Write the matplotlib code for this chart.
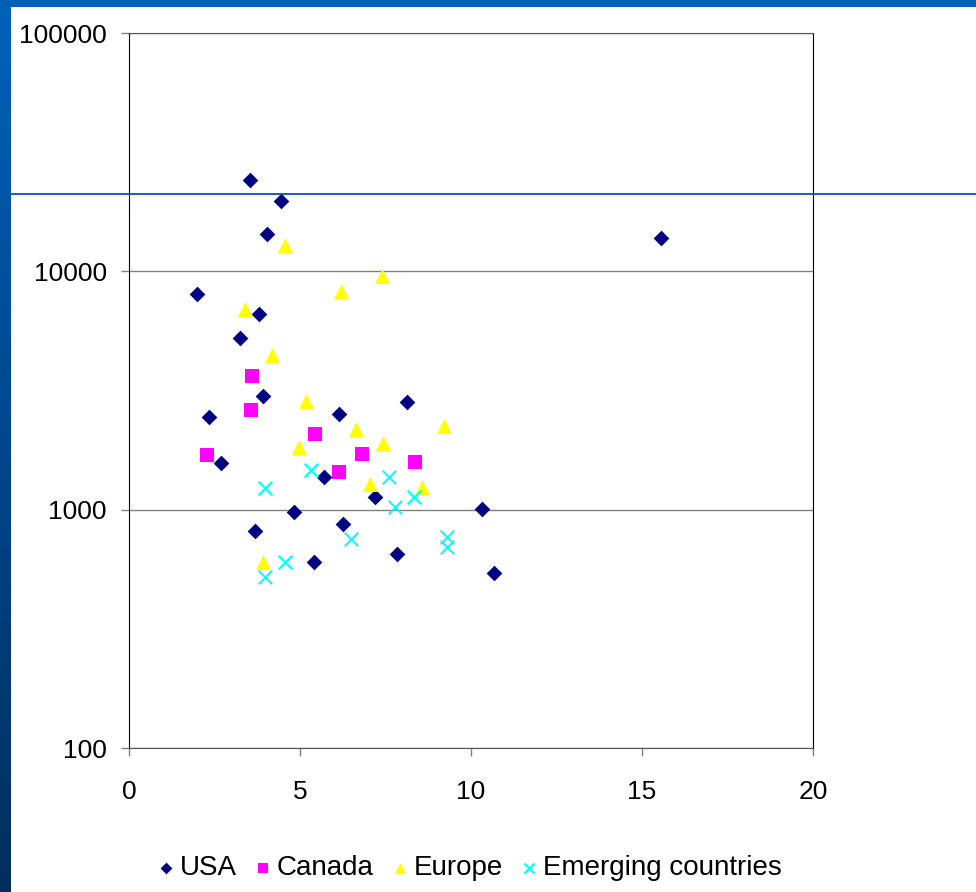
import numpy as np
import matplotlib
matplotlib.use("Agg")
import matplotlib.pyplot as plt
from matplotlib.lines import Line2D
from matplotlib.ticker import FixedLocator, FixedFormatter, NullLocator
from matplotlib import font_manager

plt.rcParams['font.family'] = ['Liberation Sans', 'DejaVu Sans']

# values
usa_x = [3.53, 4.43, 4.03, 2.00, 3.79, 3.24, 3.93, 8.14, 6.15, 2.35, 2.69, 5.71,
         7.19, 10.32, 4.82, 6.25, 3.68, 7.83, 5.41, 10.66, 15.55]
usa_y = [24100, 19780, 14300, 8060, 6620, 5250, 3010, 2820, 2520, 2440, 1570, 1375,
         1127, 1010, 975, 871, 816, 650, 605, 542, 13840]

canada_x = [3.61, 3.56, 5.44, 2.27, 6.82, 8.36, 6.13]
canada_y = [3640, 2630, 2080, 1690, 1717, 1580, 1435]

europe_x = [4.57, 7.40, 6.21, 3.39, 4.18, 5.17, 9.22, 6.65, 4.97, 7.43, 7.05, 8.58, 3.93]
europe_y = [12900, 9590, 8290, 6930, 4460, 2870, 2245, 2175, 1840, 1910, 1282, 1240, 605]

emerging_x = [5.31, 7.59, 3.98, 8.34, 7.79, 6.50, 9.31, 9.31, 4.56, 3.98]
emerging_y = [1467, 1375, 1230, 1130, 1023, 751, 766, 699, 605, 523]

x_ticks = [0, 5, 10, 15, 20]
y_ticks = [100, 1000, 10000, 100000]
y_labels = ["100", "1000", "10000", "100000"]

W, H = 976, 892
fig = plt.figure(figsize=(W / 100, H / 100), dpi=100)
fig.patch.set_facecolor("white")

# slide background bits: blue strip on the left, band on top, thin line
strip = fig.add_axes([0, 0, 11 / W, 1])
grad = np.linspace(0, 1, 256).reshape(-1, 1)
strip.imshow(grad, aspect="auto", cmap=matplotlib.colors.LinearSegmentedColormap.from_list(
    "slide", ["#0062ba", "#00468e", "#002f5e"]), extent=[0, 1, 0, 1], origin="upper")
strip.axis("off")
top = fig.add_axes([0, 1 - 7 / H, 1, 7 / H])
top.set_facecolor("#0060b8")
top.set_xticks([]); top.set_yticks([])
for s in top.spines.values():
    s.set_visible(False)
fig.add_artist(Line2D([11 / W, 1], [1 - 194 / H] * 2, color="#0057b0", lw=1.3, zorder=5))

ax = fig.add_axes([129 / W, 1 - 748 / H, (813 - 129) / W, (748 - 33) / H])
ax.set_yscale("log")
ax.set_xlim(0, 20)
ax.set_ylim(100, 100000)

ax.scatter(usa_x, usa_y, marker="D", s=8 ** 2, color="#000080", label="USA", zorder=3, linewidths=0)
ax.scatter(canada_x, canada_y, marker="s", s=9.8 ** 2, color="#FF00FF", label="Canada", zorder=3, linewidths=0)
ax.scatter(europe_x, europe_y, marker="^", s=10.8 ** 2, color="#FFFF00", label="Europe", zorder=3, linewidths=0)
ax.scatter(emerging_x, emerging_y, marker="x", s=9.8 ** 2, color="#00FFFF", label="Emerging countries",
           zorder=3, linewidths=1.5)

ax.yaxis.set_major_locator(FixedLocator(y_ticks))
ax.yaxis.set_major_formatter(FixedFormatter(y_labels))
ax.yaxis.set_minor_locator(NullLocator())
ax.set_xticks(x_ticks)
ax.grid(axis="y", color="#808080", lw=1)
ax.tick_params(axis="both", direction="out", length=6, width=1, color="#808080", labelsize=19)
ax.tick_params(axis="x", pad=17)
ax.tick_params(axis="y", pad=10)
for side in ["left", "right"]:
    ax.spines[side].set_color("black")
ax.spines["top"].set_color("#555555")
ax.spines["bottom"].set_color("#555555")

# legend text in the picture is narrow and tall
leg_font = font_manager.FontProperties(family=["Liberation Sans Narrow", "Liberation Sans"], size=20)
ax.legend(loc="upper center", bbox_to_anchor=(0.495, -0.115), ncol=4, frameon=False, prop=leg_font,
          handletextpad=0.05, columnspacing=0.5, markerscale=0.75, handlelength=0.9)

fig.savefig("out.png", dpi=100)
